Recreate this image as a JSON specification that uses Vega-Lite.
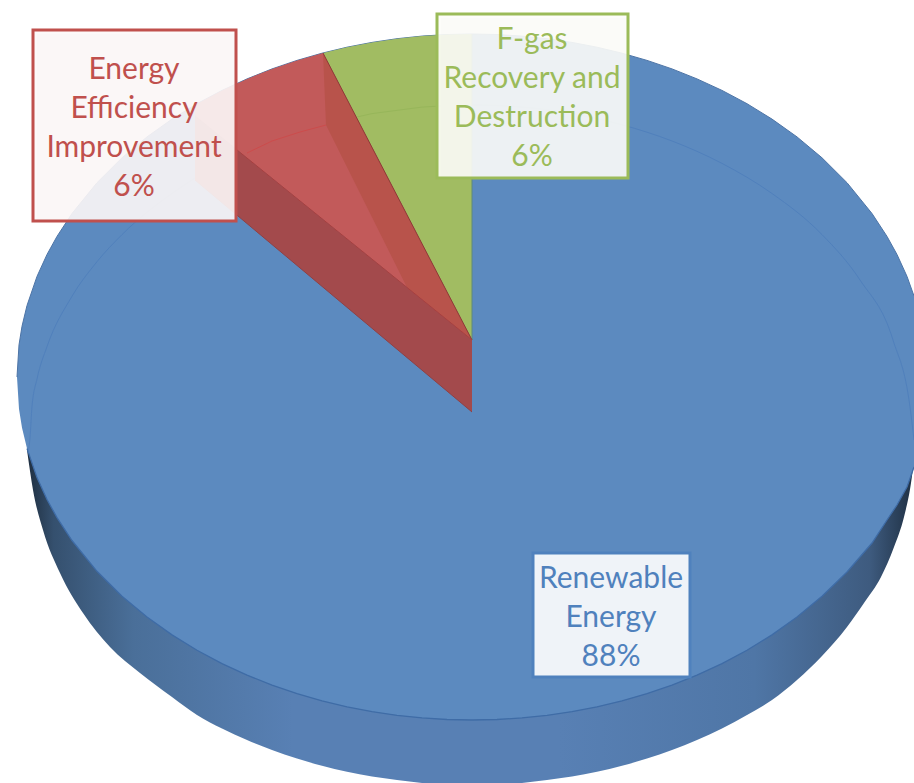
{
"$schema":"https://vega.github.io/schema/vega-lite/v6.json",
"autosize":{"type":"none"},
"width":914,"height":783,"padding":0,
"background":"white",
"view":{"stroke":null},
"config":{"axis":{"disable":true}},
"datasets":{
"top":[{"x":17,"t":377,"b":377},{"x":19,"t":344.9,"b":409.1},{"x":22,"t":326.3,"b":427.7},{"x":27,"t":305.5,"b":448.5},{"x":37,"t":276.4,"b":477.6},{"x":47,"t":254.5,"b":499.5},{"x":57,"t":236.4,"b":517.6},{"x":72,"t":213.5,"b":540.5},{"x":97,"t":182.7,"b":571.3},{"x":122,"t":157.8,"b":596.2},{"x":147,"t":136.9,"b":617.1},{"x":172,"t":119.1,"b":634.9},{"x":197,"t":103.7,"b":650.3},{"x":222,"t":90.4,"b":663.6},{"x":247,"t":78.9,"b":675.1},{"x":272,"t":68.9,"b":685.1},{"x":297,"t":60.4,"b":693.6},{"x":322,"t":53.2,"b":700.8},{"x":347,"t":47.2,"b":706.8},{"x":372,"t":42.4,"b":711.6},{"x":397,"t":38.7,"b":715.3},{"x":422,"t":36.1,"b":717.9},{"x":447,"t":34.5,"b":719.5},{"x":472,"t":34,"b":720},{"x":497,"t":34.5,"b":719.5},{"x":522,"t":36.1,"b":717.9},{"x":547,"t":38.7,"b":715.3},{"x":572,"t":42.4,"b":711.6},{"x":597,"t":47.2,"b":706.8},{"x":622,"t":53.2,"b":700.8},{"x":647,"t":60.4,"b":693.6},{"x":672,"t":68.9,"b":685.1},{"x":697,"t":78.9,"b":675.1},{"x":722,"t":90.4,"b":663.6},{"x":747,"t":103.7,"b":650.3},{"x":772,"t":119.1,"b":634.9},{"x":797,"t":136.9,"b":617.1},{"x":822,"t":157.8,"b":596.2},{"x":847,"t":182.7,"b":572},{"x":872,"t":213.5,"b":543},{"x":887,"t":236.4,"b":520},{"x":897,"t":254.5,"b":505},{"x":907,"t":276.4,"b":487},{"x":914,"t":296,"b":467}],
"wall":[{"x":27,"t":450,"b":450},{"x":33,"t":450,"b":490},{"x":43,"t":450,"b":530},{"x":60,"t":450,"b":573},{"x":83,"t":450,"b":613},{"x":110,"t":450,"b":647},{"x":140,"t":450,"b":673},{"x":172,"t":450,"b":697},{"x":197,"t":450,"b":715},{"x":222,"t":450,"b":728.6},{"x":247,"t":450,"b":740},{"x":272,"t":450,"b":750},{"x":297,"t":450,"b":758.6},{"x":322,"t":450,"b":765.8},{"x":347,"t":450,"b":771.8},{"x":372,"t":450,"b":776.6},{"x":397,"t":450,"b":780},{"x":422,"t":450,"b":782.9},{"x":447,"t":450,"b":784.5},{"x":472,"t":450,"b":785},{"x":497,"t":450,"b":784.5},{"x":522,"t":450,"b":782.9},{"x":547,"t":450,"b":780},{"x":572,"t":450,"b":776.6},{"x":597,"t":450,"b":771.8},{"x":622,"t":450,"b":765.8},{"x":647,"t":450,"b":758.6},{"x":672,"t":450,"b":750},{"x":697,"t":450,"b":740},{"x":722,"t":450,"b":728.6},{"x":747,"t":450,"b":715},{"x":772,"t":450,"b":700},{"x":797,"t":450,"b":680},{"x":822,"t":450,"b":656},{"x":847,"t":450,"b":627},{"x":864,"t":450,"b":603},{"x":881,"t":450,"b":577},{"x":894,"t":450,"b":547},{"x":904,"t":450,"b":517},{"x":911,"t":450,"b":483},{"x":914,"t":450,"b":460}],
"inner":[{"x":28,"y":453},{"x":30,"y":438},{"x":32,"y":406.4},{"x":37,"y":379},{"x":47,"y":346.6},{"x":72,"y":296.3},{"x":97,"y":261.7},{"x":122,"y":234.6},{"x":172,"y":193.5},{"x":222,"y":163.4},{"x":472,"y":105},{"x":522,"y":107.1},{"x":572,"y":113.6},{"x":622,"y":124.8},{"x":672,"y":141},{"x":722,"y":163.4},{"x":772,"y":193.5},{"x":822,"y":234.6},{"x":860,"y":280},{"x":893,"y":340},{"x":910,"y":407},{"x":914,"y":440}],
"green":[{"x":323,"t":53,"b":53},{"x":347,"t":47.2,"b":99.2},{"x":372,"t":42.4,"b":147.4},{"x":397,"t":38.7,"b":195.5},{"x":422,"t":36.1,"b":243.7},{"x":447,"t":34.5,"b":291.8},{"x":472,"t":34,"b":340}],
"redFace":[{"x":195,"t":105,"b":116},{"x":222,"t":90.4,"b":137.9},{"x":247,"t":78.9,"b":158},{"x":272,"t":68.9,"b":178.3},{"x":297,"t":60.4,"b":198.5},{"x":323,"t":53,"b":219.5},{"x":472,"t":340,"b":340}],
"redSide":[{"x":323,"t":53,"b":53},{"x":326,"t":58.8,"b":125},{"x":407,"t":214.8,"b":287.4},{"x":472,"t":340,"b":340}],
"redWall":[{"x":195,"t":116,"b":180},{"x":472,"t":340,"b":412}],
"edges":[
{"edge":"greenRight","x":472,"y":34},{"edge":"greenRight","x":472,"y":340},
{"edge":"redGreen","x":323,"y":53},{"edge":"redGreen","x":472,"y":340},
{"edge":"wallTop","x":195,"y":116},{"edge":"wallTop","x":472,"y":340},
{"edge":"wallBottom","x":195,"y":180},{"edge":"wallBottom","x":472,"y":412},
{"edge":"arcRed","x":247,"y":153},{"edge":"arcRed","x":272,"y":141},{"edge":"arcRed","x":300,"y":132},{"edge":"arcRed","x":326,"y":125},
{"edge":"arcGreen","x":357,"y":117},{"edge":"arcGreen","x":372,"y":113.6},{"edge":"arcGreen","x":422,"y":107.1},{"edge":"arcGreen","x":441,"y":106}],
"labels":[
{"name":"Energy Efficiency Improvement","share":6,"label":"Energy\nEfficiency\nImprovement\n6%","x0":33,"x1":236,"y0":30,"y1":221,"lx":134,"ly":70},
{"name":"F-gas Recovery and Destruction","share":6,"label":"F-gas\nRecovery and\nDestruction\n6%","x0":437,"x1":628,"y0":14,"y1":178,"lx":532,"ly":40},
{"name":"Renewable Energy","share":88,"label":"Renewable\nEnergy\n88%","x0":533,"x1":690,"y0":553,"y1":677,"lx":611,"ly":579}]
},
"encoding":{
"x":{"field":"x","type":"quantitative","scale":{"domain":[0,914],"nice":false,"zero":false},"axis":null}
},
"layer":[
{"data":{"name":"wall"},"mark":{"type":"area","orient":"vertical","interpolate":"monotone","color":{"x1":0,"x2":1,"y1":0,"y2":0,"gradient":"linear","stops":[{"offset":0,"color":"#1f2f40"},{"offset":0.03,"color":"#35506e"},{"offset":0.12,"color":"#4a6f99"},{"offset":0.3,"color":"#5880b4"},{"offset":0.6,"color":"#5880b4"},{"offset":0.82,"color":"#4f76a6"},{"offset":0.95,"color":"#3e5b7f"},{"offset":1,"color":"#1f3043"}]}},
"encoding":{"y":{"field":"t","type":"quantitative","scale":{"domain":[783,0],"nice":false,"zero":false},"axis":null},"y2":{"field":"b"}}},
{"data":{"name":"top"},"mark":{"type":"area","orient":"vertical","color":"#5c8abf"},
"encoding":{"y":{"field":"t","type":"quantitative"},"y2":{"field":"b"}}},
{"data":{"name":"top"},"mark":{"type":"line","color":"#4d74a6","strokeWidth":1},
"encoding":{"y":{"field":"t","type":"quantitative"}}},
{"data":{"name":"top"},"transform":[{"filter":"datum.x>=27"}],"mark":{"type":"line","color":"#3f6ca6","strokeWidth":1.3},
"encoding":{"y":{"field":"b","type":"quantitative"}}},
{"data":{"name":"inner"},"mark":{"type":"line","color":"#5080bc","strokeWidth":1,"interpolate":"monotone"},
"encoding":{"y":{"field":"y","type":"quantitative"}}},
{"data":{"name":"green"},"mark":{"type":"area","orient":"vertical","color":"#a1bc62"},
"encoding":{"y":{"field":"t","type":"quantitative"},"y2":{"field":"b"}}},
{"data":{"name":"redFace"},"mark":{"type":"area","orient":"vertical","color":"#c25a5a"},
"encoding":{"y":{"field":"t","type":"quantitative"},"y2":{"field":"b"}}},
{"data":{"name":"redSide"},"mark":{"type":"area","orient":"vertical","color":"#b8534b"},
"encoding":{"y":{"field":"t","type":"quantitative"},"y2":{"field":"b"}}},
{"data":{"name":"redWall"},"mark":{"type":"area","orient":"vertical","color":"#a34a4c"},
"encoding":{"y":{"field":"t","type":"quantitative"},"y2":{"field":"b"}}},
{"data":{"name":"edges"},"mark":{"type":"line","strokeWidth":1},
"encoding":{"y":{"field":"y","type":"quantitative"},"detail":{"field":"edge"},
"color":{"field":"edge","type":"nominal","legend":null,"scale":{"domain":["greenRight","redGreen","wallTop","wallBottom","arcRed","arcGreen"],"range":["#5f8a7a","#8e3c36","#a8403f","#8f4044","#cc4c4c","#97b65a"]}}}},
{"data":{"name":"labels"},"mark":{"type":"rect","color":"#5a5a5a","opacity":0.12,"xOffset":4,"yOffset":4},
"encoding":{"x":{"field":"x0","type":"quantitative"},"x2":{"field":"x1"},"y":{"field":"y0","type":"quantitative"},"y2":{"field":"y1"}}},
{"data":{"name":"labels"},"mark":{"type":"rect","fillOpacity":0.9,"strokeWidth":3},
"encoding":{"x":{"field":"x0","type":"quantitative"},"x2":{"field":"x1"},"y":{"field":"y0","type":"quantitative"},"y2":{"field":"y1"},
"fill":{"field":"name","type":"nominal","legend":null,"scale":{"domain":["Energy Efficiency Improvement","F-gas Recovery and Destruction","Renewable Energy"],"range":["#fdf8f8","#fdfdf9","#ffffff"]}},
"stroke":{"field":"name","type":"nominal","legend":null,"scale":{"domain":["Energy Efficiency Improvement","F-gas Recovery and Destruction","Renewable Energy"],"range":["#c0504d","#9bbb59","#4f81bd"]}}}},
{"data":{"name":"labels"},
"mark":{"type":"text","font":"Lato","fontSize":30,"lineBreak":"\n","lineHeight":39,"align":"center","baseline":"middle"},
"encoding":{"x":{"field":"lx","type":"quantitative"},"y":{"field":"ly","type":"quantitative"},"text":{"field":"label"},
"color":{"field":"name","type":"nominal","legend":null,"scale":{"domain":["Energy Efficiency Improvement","F-gas Recovery and Destruction","Renewable Energy"],"range":["#c0504d","#9bbb59","#4f81bd"]}}}}
],
"resolve":{"scale":{"color":"independent","stroke":"independent","fill":"independent"}}
}
